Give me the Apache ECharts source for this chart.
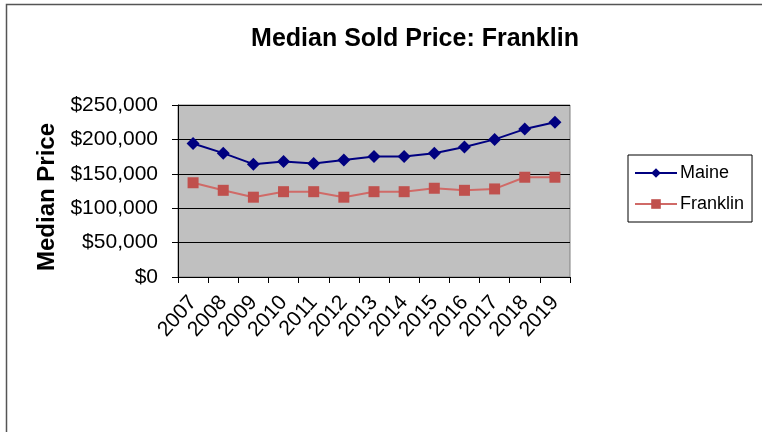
<!DOCTYPE html>
<html>
<head>
<meta charset="utf-8">
<script src="https://cdn.jsdelivr.net/npm/echarts@6/dist/echarts.min.js"></script>
<style>
  html, body { margin: 0; padding: 0; background: #fff; }
  #chart { width: 762px; height: 432px; }
</style>
</head>
<body>
<div id="chart"></div>
<script>
const years = ['2007', '2008', '2009', '2010', '2011', '2012', '2013', '2014', '2015', '2016', '2017', '2018', '2019'];
const maine = [194000, 180000, 164000, 168000, 165000, 170000, 175000, 175000, 180000, 189000, 200000, 215000, 225000];
const franklin = [137000, 126000, 116000, 124000, 124000, 116000, 124000, 124000, 129000, 126000, 128000, 145000, 145000];
const yTicks = [0, 50000, 100000, 150000, 200000, 250000];

const font = 'Liberation Sans, Arial, sans-serif';

const chart = echarts.init(document.getElementById('chart'));
chart.setOption({
  animation: false,
  backgroundColor: '#fff',
  textStyle: { fontFamily: font },
  title: {
    text: 'Median Sold Price: Franklin',
    left: 410,
    top: 22,
    textAlign: 'center',
    textStyle: { fontSize: 25, fontWeight: 'bold', color: '#000', fontFamily: font }
  },
  graphic: [{
    type: 'rect',
    shape: { x: 6.5, y: 4.5, width: 800, height: 500 },
    style: { fill: 'none', stroke: '#555', lineWidth: 1.5 },
    silent: true
  }],
  legend: {
    orient: 'vertical',
    left: 628,
    top: 155,
    padding: [9, 8, 9, 6],
    itemGap: 13,
    itemWidth: 42,
    itemHeight: 12,
    borderColor: '#000',
    borderWidth: 1,
    textStyle: { fontSize: 18, color: '#000', fontFamily: font, padding: [0, 0, 0, -2] },
    data: ['Maine', 'Franklin']
  },
  grid: {
    left: 178,
    right: 192,
    top: 105,
    bottom: 155,
    show: true,
    backgroundColor: '#C0C0C0',
    borderColor: '#808080',
    borderWidth: 1
  },
  xAxis: {
    type: 'category',
    data: years,
    boundaryGap: true,
    axisLine: { show: true, lineStyle: { color: '#000', width: 1 } },
    axisTick: { show: true, length: 6, lineStyle: { color: '#000' } },
    axisLabel: { rotate: 48, fontSize: 21, color: '#000', margin: 22, interval: 0, fontFamily: font },
    splitLine: { show: false }
  },
  yAxis: {
    type: 'value',
    min: yTicks[0],
    max: yTicks[yTicks.length - 1],
    interval: 50000,
    name: 'Median Price',
    nameLocation: 'middle',
    nameGap: 118,
    nameTextStyle: { fontSize: 24, fontWeight: 'bold', color: '#000', fontFamily: font, padding: [0, 12, 0, 0] },
    axisLine: { show: true, lineStyle: { color: '#000', width: 1 } },
    axisTick: { show: true, length: 6, lineStyle: { color: '#000' } },
    axisLabel: {
      fontSize: 21,
      color: '#000',
      margin: 20,
      fontFamily: font,
      formatter: v => '$' + v.toLocaleString('en-US')
    },
    splitLine: { show: true, lineStyle: { color: '#000', width: 1 } }
  },
  series: [
    {
      name: 'Maine',
      type: 'line',
      data: maine,
      symbol: 'diamond',
      symbolSize: 13,
      lineStyle: { color: '#000080', width: 2 },
      itemStyle: { color: '#000080' }
    },
    {
      name: 'Franklin',
      type: 'line',
      data: franklin,
      symbol: 'rect',
      symbolSize: 11,
      lineStyle: { color: '#D06A67', width: 2 },
      itemStyle: { color: '#C0504D' }
    }
  ]
});
</script>
</body>
</html>
